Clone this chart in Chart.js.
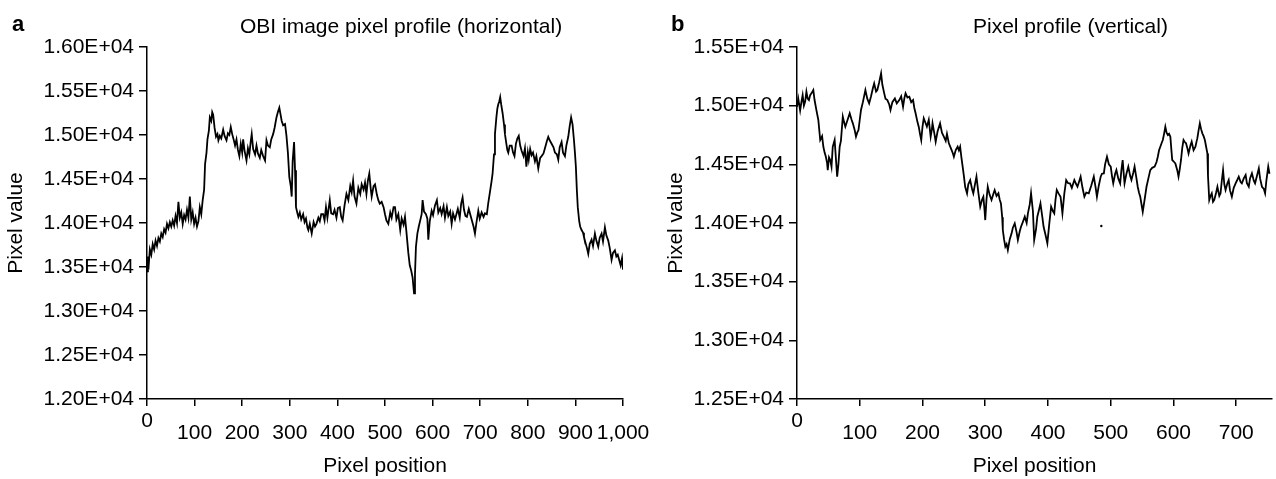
<!DOCTYPE html>
<html>
<head>
<meta charset="utf-8">
<title>Pixel profiles</title>
<script src="https://cdn.jsdelivr.net/npm/chart.js@4.4.1/dist/chart.umd.min.js"></script>
<style>
  body { margin: 0; background: #fff; font-family: "Liberation Sans", Arial, sans-serif; }
  #wrap { position: relative; width: 1276px; height: 479px; overflow: hidden; }
  .box { position: absolute; top: 0; height: 479px; }
  .letter { position: absolute; font-size: 22px; font-weight: bold; line-height: 1; color: #000; }
  .ttl { position: absolute; font-size: 21px; line-height: 1; color: #000; white-space: nowrap; }
</style>
</head>
<body>
<div id="wrap">
  <div class="box" style="left:0;width:650px"><canvas id="chartA"></canvas></div>
  <div class="box" style="left:650px;width:626px"><canvas id="chartB"></canvas></div>
  <div class="letter" style="left:12px;top:13px">a</div>
  <div class="ttl" style="left:240px;top:15px">OBI image pixel profile (horizontal)</div>
  <div class="letter" style="left:671px;top:13px">b</div>
  <div class="ttl" style="left:973px;top:15px">Pixel profile (vertical)</div>
</div>
<script>
// panel a: horizontal profile (pixel position, pixel value)
const hPos = [0,2,4,6,9,12,15,18,21,24,27,30,33,36,39,42,45,48,51,54,57,60,63,66,69,72,75,78,81,84,87,90,93,96,99,
  102,105,108,111,114,117,120,122,125,127,130,132,135,137,139,142,145,148,150,153,156,160,163,167,170,173,176,179,
  182,185,188,191,194,197,200,202,205,209,212,215,218,220,223,227,230,233,237,240,244,248,251,254,258,261,265,268,
  272,275,278,281,283,286,290,293,296,299,302,304,306,309,311,313,316,318,321,324,328,331,334,337,339,342,346,350,
  353,356,360,363,366,370,373,376,379,384,387,391,394,398,401,405,408,411,415,419,423,427,430,433,436,440,444,448,
  451,455,458,461,464,467,470,472,476,479,483,486,489,493,497,500,503,507,511,514,518,521,524,528,532,535,539,542,
  545,549,552,555,558,561,563,565,568,571,574,577,579,582,586,589,591,594,598,601,605,609,612,616,619,623,626,630,
  633,637,640,643,647,650,653,657,660,663,666,669,672,676,679,682,686,689,692,696,699,703,707,710,714,717,721,724,
  726,729,731,734,736,738,740,742,744,747,750,752,755,757,759,762,766,769,772,775,778,781,784,787,791,794,797,800,
  802,805,808,811,815,818,822,826,829,833,836,840,843,846,850,854,857,861,864,867,871,874,878,881,885,888,891,894,
  897,899,901,903,905,908,910,913,916,918,921,924,927,930,934,937,941,944,948,951,955,958,962,965,969,972,976,979,
  983,986,989,992,995,998,1000];
const hVal = [13450,13620,13550,13700,13640,13760,13700,13800,13740,13830,13790,13880,13840,13930,13890,13990,13940,
  14010,13960,14030,13970,14080,14000,14240,14060,14120,13990,14090,14040,14150,14060,14300,14040,14120,13990,
  14060,13960,14020,14180,14100,14260,14380,14670,14800,14950,15050,15200,15160,15260,15230,15080,14980,15010,
  14940,14990,14960,15060,14990,14940,15020,15000,15090,15010,14950,14880,14950,14830,14760,14900,14800,14950,
  14820,14710,14850,14780,14930,15010,14840,14780,14880,14790,14740,14830,14760,14710,14940,14880,14860,14950,
  15010,15080,15200,15260,15310,15220,15160,15110,15125,14990,14800,14520,14420,14300,14700,14920,14600,14180,
  14110,14070,14120,14040,14100,14010,14050,13950,13920,13990,13880,14010,13960,13990,14060,14020,14100,14100,
  14030,14180,14060,14260,14110,14100,14150,14060,14170,14180,14070,14030,14200,14330,14260,14420,14350,14480,
  14300,14220,14400,14330,14440,14380,14460,14330,14480,14560,14390,14300,14420,14440,14320,14260,14220,14240,
  14180,14100,14030,13990,14120,14060,14180,14180,14040,14100,13920,14050,13980,14070,13900,13660,13520,13460,
  13380,13200,13420,13730,13880,13960,14030,14100,14260,14130,14100,14050,13810,14020,14140,14090,14200,14260,
  14120,14170,14100,14190,14060,14180,14080,14130,13990,14110,14040,14100,14160,14060,14220,14290,14150,14080,
  14070,14160,14100,14040,13960,13880,14000,14140,14050,14120,14070,14110,14100,14230,14370,14480,14560,14780,
  15010,15200,15300,15350,15380,15430,15350,15250,15120,15010,14900,14830,14800,14880,14880,14800,14760,14900,
  14960,14990,14880,14820,14760,14850,14640,14800,14720,14840,14770,14800,14700,14760,14620,14740,14760,14790,
  14850,14930,14980,14940,14900,14860,14800,14780,14720,14860,14920,14800,14760,14880,14980,15100,15200,15120,
  14940,14800,14640,14380,14180,14020,13960,13920,13890,13840,13780,13720,13650,13760,13810,13740,13880,13800,
  13730,13830,13880,13790,13950,13860,13800,13720,13580,13660,13690,13620,13640,13580,13520,13600,13470];

// panel b: vertical profile
const vPos = [0,2,5,7,9,11,13,15,17,19,21,23,26,28,31,34,37,40,42,44,46,48,49,51,53,55,57,60,62,64,66,68,70,73,75,
  77,80,84,87,89,92,94,96,98,100,102,105,109,112,115,118,121,123,126,128,131,134,136,139,141,144,147,149,152,156,
  159,163,166,169,171,173,176,179,182,185,187,189,192,194,196,198,200,202,205,207,210,213,215,216,219,221,224,228,
  231,234,237,239,242,245,248,250,253,256,258,260,262,264,266,268,271,273,276,279,281,284,286,289,292,295,297,299,
  300,302,304,307,310,313,315,318,321,323,325,327,328,330,332,334,336,339,342,344,347,350,352,355,357,360,363,366,
  368,371,373,376,378,381,383,386,388,391,393,396,399,402,405,408,410,412,414,417,420,423,426,429,432,435,438,442,
  445,447,450,452,455,458,461,465,469,473,476,478,481,484,486,489,491,494,497,500,502,504,507,509,512,515,517,519,
  521,522,525,528,531,533,536,538,541,543,545,547,549,551,554,557,560,563,566,570,573,575,577,579,581,583,585,587,
  589,591,593,595,597,598,601,603,606,608,610,612,614,616,618,620,622,624,627,629,632,635,637,638,640,642,644,646,
  648,650,652,654,655,657,659,661,663,665,668,670,673,675,677,679,681,683,686,688,690,693,696,699,701,704,707,709,
  712,715,717,720,722,725,728,730,733,736,738,741,744,746,748,751,753];
const vVal = [14990,15060,14960,15030,15090,15000,15034,15119,15060,15048,15090,15105,15133,15048,14960,14878,14707,
  14740,14650,14600,14565,14510,14451,14560,14537,14480,14650,14707,14550,14395,14500,14650,14700,14906,14860,
  14821,14870,14935,14880,14849,14790,14736,14770,14792,14880,14963,15030,15133,15060,15020,15080,15150,15190,
  15120,15133,15200,15275,15180,15105,15060,15048,15010,14963,15030,15062,15020,15048,15080,14991,15060,15105,
  15070,15077,15030,15048,14980,14935,14860,14821,14760,14707,14820,14892,14850,14821,14880,14736,14800,14849,
  14760,14693,14780,14849,14770,14736,14700,14760,14679,14640,14600,14565,14622,14650,14620,14650,14560,14480,
  14400,14309,14253,14330,14366,14290,14253,14340,14395,14260,14139,14200,14224,14100,14025,14200,14309,14240,
  14196,14250,14281,14230,14253,14200,14167,14050,13940,13860,13798,13820,13770,13860,13912,13960,13997,13920,
  13855,13930,13968,14010,14054,14000,14082,14160,14253,14100,13855,13950,14054,14120,14167,14050,13968,13900,
  13827,13990,14139,14100,14082,14200,14281,14250,14224,14082,14250,14366,14340,14338,14300,14366,14330,14309,
  14360,14395,14300,14224,14260,14253,14320,14395,14300,14224,14320,14395,14420,14423,14500,14565,14500,14480,
  14400,14338,14420,14451,14380,14338,14450,14537,14400,14338,14420,14480,14400,14366,14430,14480,14380,14309,
  14260,14224,14160,14096,14200,14309,14380,14451,14470,14480,14520,14565,14620,14650,14680,14707,14760,14821,
  14770,14750,14760,14736,14600,14537,14520,14508,14450,14395,14460,14537,14640,14707,14690,14679,14640,14593,
  14660,14693,14620,14650,14700,14721,14790,14849,14800,14764,14740,14707,14650,14593,14400,14196,14230,14253,
  14180,14196,14260,14309,14230,14253,14360,14451,14330,14281,14340,14366,14280,14224,14300,14338,14360,14395,
  14350,14338,14380,14409,14340,14309,14380,14423,14360,14338,14400,14465,14380,14309,14290,14253,14360,14480,
  14420];
// stray speck visible in panel b
const vSpeckPos = [485];
const vSpeckVal = [13974];

const FONT = '"Liberation Sans", Arial, sans-serif';
Chart.defaults.font.family = FONT;
Chart.defaults.font.size = 21;
Chart.defaults.color = '#000';

// the "0" on the x axis sits a little higher than the other labels
const zeroLabel = {
  id: 'zeroLabel',
  afterDraw(chart) {
    const sx = chart.scales.x;
    const ctx = chart.ctx;
    ctx.save();
    ctx.font = '21px ' + FONT;
    ctx.fillStyle = '#000';
    ctx.textAlign = 'center';
    ctx.textBaseline = 'middle';
    ctx.fillText('0', sx.getPixelForValue(0), 421);
    ctx.restore();
  }
};

function makePanel(id, pos, vals, extra, yMin, yMax, xMax, padRight, yTitlePad) {
  const datasets = [{
    data: pos.map((p, i) => ({ x: p, y: vals[i] })),
    borderColor: '#000',
    borderWidth: 1.8,
    pointRadius: 0,
    tension: 0,
    fill: false
  }];
  if (extra) {
    datasets.push({
      data: extra[0].map((p, i) => ({ x: p, y: extra[1][i] })),
      showLine: false,
      pointRadius: 1.2,
      pointBackgroundColor: '#000',
      pointBorderWidth: 0
    });
  }
  return new Chart(document.getElementById(id), {
    type: 'line',
    data: { datasets },
    options: {
      responsive: true,
      maintainAspectRatio: false,
      animation: false,
      layout: { padding: { top: 47, right: padRight, bottom: 0, left: 0 } },
      plugins: { legend: { display: false }, tooltip: { enabled: false } },
      scales: {
        x: {
          type: 'linear',
          min: 0,
          max: xMax,
          afterFit(s) { s.height = 80; s.paddingLeft = 0; s.paddingRight = 0; },
          ticks: {
            stepSize: 100,
            includeBounds: false,
            autoSkip: false,
            maxRotation: 0,
            padding: 15,
            color: '#000',
            callback: v => (v === 0 ? '' : v.toLocaleString('en-US'))
          },
          grid: { drawOnChartArea: false, tickLength: 7, color: '#000', lineWidth: 1.5 },
          border: { color: '#000', width: 1.5 },
          title: { display: true, text: 'Pixel position', color: '#000', padding: 0 }
        },
        y: {
          min: yMin,
          max: yMax,
          afterFit(s) { s.width = 147; s.paddingTop = 0; s.paddingBottom = 0; },
          ticks: {
            stepSize: 500,
            padding: 5,
            color: '#000',
            callback: v => (v / 10000).toFixed(2) + 'E+04'
          },
          grid: { drawOnChartArea: false, tickLength: 8, color: '#000', lineWidth: 1.5 },
          border: { color: '#000', width: 1.5 },
          title: { display: true, text: 'Pixel value', color: '#000', padding: { top: yTitlePad, bottom: 0 } }
        }
      }
    },
    plugins: [zeroLabel]
  });
}

makePanel('chartA', hPos, hVal, null, 12000, 16000, 1000, 27, 4);
makePanel('chartB', vPos, vVal, [vSpeckPos, vSpeckVal], 12500, 15500, 757, 0, 14);
</script>
</body>
</html>
